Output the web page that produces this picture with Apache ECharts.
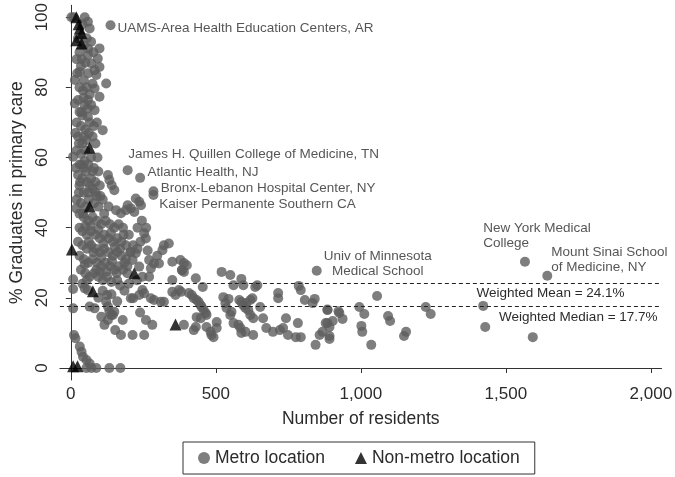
<!DOCTYPE html>
<html>
<head>
<meta charset="utf-8">
<script src="https://cdn.jsdelivr.net/npm/echarts@6/dist/echarts.min.js"></script>
<style>
  html, body { margin: 0; padding: 0; background: #fff; }
  #chart { width: 675px; height: 477px; }
</style>
</head>
<body>
<div id="chart"></div>
<script>
// residents vs % graduates in primary care
const metroPoints = [
  // tall column near zero
  [2,100],[10,100],[48,100],[59,98.7],[65,96.8],[40,98],[55,94],[30,90],[45,92],[60,91],[99,91.1],
  [59,89.2],[93,88.2],[71,86.8],[20,88],[35,86],[50,87],[82,84.9],[99,85.8],[88,83.5],[122,81.1],
  [82,79.7],[99,77.3],[59,76.4],[42,79.1],[25,76.4],[14,82.1],[31,84.4],[14,75.4],[37,73],[82,73.5],
  [59,71.6],[45,82],[55,80],[65,78],[30,80],[48,75],[70,75],[20,70],[35,69],[50,68],[65,70],[110,67.8],
  [25,66],[40,64],[55,65],[75,66],[85,64],[20,62],[35,61],[50,62],[70,60],[8,60.2],[30,58],[45,57],
  [60,58],[80,57],[95,56],[25,55],[40,54],[55,53],[70,54],[85,53],[100,52],[128,55],[133,53.6],
  [141,52.1],[150,50.7],[30,52],[45,50],[60,50],[75,51],[90,49],[110,48],[20,48],[35,47],[50,46],
  [80,47],[95,46],[19,45.5],[156,45],[173,44.1],[190,45],[196,46.4],[207,45.5],[219,44.5],[224,48.3],
  [236,47.4],[242,46.4],[40,72],[90,70],[28,64],[62,67],[38,58],[92,60],[18,57],[52,56],[102,49],
  [25,94],[70,93],[38,88],[78,90],[22,84],[60,84],[44,77],[75,81],[30,73],[58,74],[16,67],[80,69],
  [45,66],[32,53],[66,52],[48,59],[75,56],[28,50],[62,48],[85,50],[42,44],[115,44],[130,46],
  // dense cluster
  [30,44],[45,43],[60,42],[75,43],[90,42],[105,41],[120,42],[135,41],[150,40],[165,41],[180,40],
  [30,40],[40,39],[55,38],[70,39],[85,38],[100,37],[115,38],[130,37],[145,36],[160,37],[175,36],
  [190,35],[200,38],[25,36],[40,35],[55,34],[70,35],[85,34],[100,33],[115,34],[130,33],[145,32],
  [160,33],[175,32],[190,31],[205,33],[215,35],[30,32],[45,31],[60,30],[75,31],[90,30],[105,29],
  [120,30],[135,29],[150,28],[165,29],[180,28],[195,27],[35,28],[50,27],[65,26],[80,27],[95,26],
  [110,25],[125,26],[140,24.5],[160,25],[170,23.5],[40,24],[55,25],[253,38.4],[259,36.9],[270,30.8],
  [276,28.4],[287,29.8],[304,29.8],[270,26],[247,26],[236,28.9],[224,32.7],[207,33.1],[213,30.8],
  [247,22.2],[207,19.9],[321,35],[338,35.5],[316,33.6],[350,30.3],[378,30.8],[384,27.9],[230,40],
  [245,42],[260,40],[240,36],[200,24],[185,22],[68,40.5],[112,35.5],[152,34.5],[182,38],[122,27.5],
  [88,28],[298,32],[265,33.5],[228,25],[50,40.5],[95,39.5],[138,38.5],[170,34],[62,36],[105,31.5],
  [142,30.5],[185,30],[48,29.5],[78,33],[158,27],[100,27.5],[230,34],[195,29],
  // lower band
  [8,25.3],[8,22.5],[8,17],[11,9.4],[16,8.5],[31,6.1],[37,4.6],[42,3.2],[54,2.3],[65,1.3],[54,0],
  [71,0],[88,0],[133,0],[171,0],[48,22.7],[59,22.2],[65,17.5],[82,17],[105,14.6],[116,12.3],
  [128,13.7],[145,15.1],[150,16],[153,10.8],[173,9.4],[179,13.7],[213,9.4],[253,9.4],[215,19.9],
  [236,20.8],[253,21.3],[276,19.9],[239,15.8],[259,13.7],[281,12.3],[122,18.9],[128,17.5],[133,16],
  [139,15.1],[125,20.8],[287,19.4],[310,18.9],[321,18.9],[350,21.7],[361,20.8],[350,25.1],[95,20],
  [110,22],[140,21],[160,19],
  // middle
  [390,29.9],[400,29.3],[383,27.9],[390,27.4],[431,25.6],[455,23.1],[373,22.2],[380,21.7],[407,21.4],
  [417,20.8],[424,19.9],[434,19.4],[441,18.8],[448,17.9],[451,17.4],[458,16.5],[465,15.7],[468,15.1],
  [434,14.5],[448,14.2],[390,12.3],[431,11.7],[424,10.8],[468,11.7],[482,10.3],[485,9.4],[492,8.8],
  [503,11.4],[503,13.1],[520,27.4],[550,26.5],[561,23.6],[588,25.4],[595,23.6],[526,20.2],[544,19.7],
  [533,18.5],[537,17.1],[554,16],[550,15.1],[561,12.8],[578,12.3],[585,11.4],[602,10.3],[588,10],
  [581,19.4],[588,18.8],[595,17.9],[602,17.1],[612,16.5],[605,18.5],[619,19.4],[626,19.9],[636,23.1],
  [643,23.6],[619,15.1],[629,14.2],[629,9.4],[653,17.4],[663,14.2],[674,11.4],[697,10.3],[721,10.8],
  [732,11.4],[715,21.4],[715,19.9],[742,14.2],[749,9.4],[776,8.8],[793,8.8],[783,12.8],[786,23.4],
  [793,22.2],[807,19.4],[841,19.7],[834,18.5],[844,6.6],[858,9.4],[868,10.3],[885,16.5],[885,12.8],
  [892,11.7],
  // right tail
  [1056,20.5],[885,16.7],[923,16.2],[926,15.7],[937,14],[879,12.8],[903,13.4],[892,9.1],[892,8.3],
  [995,17.4],[1012,15.4],[1002,12],[1005,10.3],[1036,6.6],[1094,14.8],[1101,13.4],[1149,9.1],
  [1156,10.3],[1224,17.4],[1241,15.4],[1422,17.7],[1429,11.7],[1593,8.8]
];

const nonMetroPoints = [
  [19,100],[27,98],[31,96.8],[37,95.4],[19,93.4],[37,92.5],[65,62.8],[65,46],[4,33.8],
  [76,21.9],[219,27],[361,12.4],[8,0.5],[23,0.5]
];

const schoolNames = [
  'UAMS-Area Health Education Centers, AR',
  'James H. Quillen College of Medicine, TN',
  'Atlantic Health, NJ',
  'Bronx-Lebanon Hospital Center, NY',
  'Kaiser Permanente Southern CA',
  'Univ of Minnesota\nMedical School',
  'New York Medical\nCollege',
  'Mount Sinai School\nof Medicine, NY'
];
const schoolX = [137, 196, 239, 285, 285, 848, 1566, 1643];
const schoolY = [97.7, 56.4, 54.2, 50.4, 49.3, 27.7, 30.3, 26.3];

const refNames = ['Weighted Mean = 24.1%', 'Weighted Median = 17.7%'];
const refValues = [24.1, 17.7];

const xTicks = [0, 500, 1000, 1500, 2000];
const yTicks = [0, 20, 40, 60, 80, 100];

const textColor = '#2b2b2b';
const font = 'Liberation Sans, Arial, sans-serif';

// where each school's label sits, relative to its marker (px)
const schoolLabelPos = [
  { position: [12, 8], align: 'left' },
  { position: [5.7, -11], align: 'left' },
  { position: [12.3, -1], align: 'left' },
  { position: [12.4, 2], align: 'left' },
  { position: [10.7, 14], align: 'left' },
  { position: [66, -2.2], align: 'center' },
  { position: [-36.7, -20.7], align: 'left' },
  { position: [9, -10.7], align: 'left' }
];

const schoolData = schoolNames.map((name, i) => ({
  value: [schoolX[i], schoolY[i]],
  label: {
    show: true,
    formatter: name,
    position: schoolLabelPos[i].position,
    align: schoolLabelPos[i].align,
    verticalAlign: 'middle',
    fontSize: 13.5,
    lineHeight: 15,
    color: textColor,
    fontFamily: font
  }
}));

const refLabelDist = [[37, 3], [4, 4]];

const chart = echarts.init(document.getElementById('chart'));
const option = {
  animation: false,
  textStyle: { fontFamily: font },
  grid: { left: 55, right: 13, top: 5, bottom: 97 },
  legend: {
    left: 183,
    bottom: 3,
    width: 350,
    itemGap: 30,
    itemWidth: 12,
    itemHeight: 12,
    padding: [7, 15, 7, 15],
    borderColor: '#333',
    borderWidth: 1,
    textStyle: { fontSize: 17.5, color: textColor, fontFamily: font },
    data: [
      { name: 'Metro location', icon: 'circle' },
      { name: 'Non-metro location', icon: 'triangle' }
    ]
  },
  xAxis: {
    type: 'value',
    min: -37.6,
    max: 2037,
    name: 'Number of residents',
    nameLocation: 'middle',
    nameGap: 30,
    nameTextStyle: { fontSize: 17.5, color: textColor },
    splitLine: { show: false },
    axisLine: { lineStyle: { color: '#333', width: 1 } },
    axisTick: { customValues: xTicks, length: 5, lineStyle: { color: '#333' } },
    axisLabel: {
      customValues: xTicks,
      fontSize: 17,
      color: textColor,
      margin: 6,
      formatter: v => v.toLocaleString('en-US')
    }
  },
  yAxis: {
    type: 'value',
    min: -3.42,
    max: 103.4,
    name: '% Graduates in primary care',
    nameLocation: 'middle',
    nameRotate: 90,
    nameGap: 33,
    nameTextStyle: { fontSize: 17.5, color: textColor },
    splitLine: { show: false },
    axisLine: { show: true, lineStyle: { color: '#333', width: 1 } },
    axisTick: { show: true, customValues: yTicks, length: 5, lineStyle: { color: '#333' } },
    axisLabel: {
      customValues: yTicks,
      fontSize: 17,
      color: textColor,
      rotate: 90,
      margin: 9
    }
  },
  series: [
    {
      name: 'Metro location',
      type: 'scatter',
      symbol: 'circle',
      symbolSize: 10,
      itemStyle: { color: '#5e5e5e' },
      data: metroPoints.concat(schoolData),
      markLine: {
        silent: true,
        symbol: 'none',
        lineStyle: { color: '#222', type: [4, 3], width: 1 },
        data: refValues.map((v, i) => ({
          yAxis: v,
          label: {
            show: true,
            formatter: refNames[i],
            position: 'insideEndBottom',
            distance: refLabelDist[i],
            fontSize: 13.5,
            color: textColor,
            fontFamily: font
          }
        }))
      }
    },
    {
      name: 'Non-metro location',
      type: 'scatter',
      symbol: 'triangle',
      symbolSize: 12,
      itemStyle: { color: '#000' },
      data: nonMetroPoints
    }
  ]
};
chart.setOption(option);
</script>
</body>
</html>
